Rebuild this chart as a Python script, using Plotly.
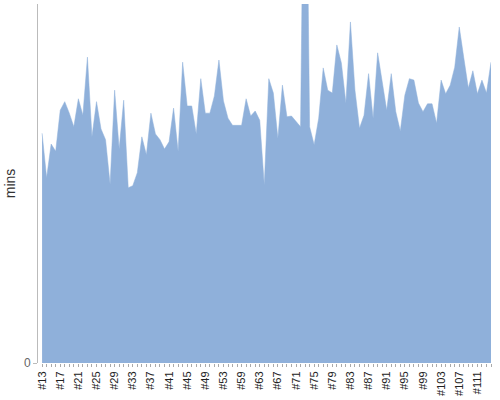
import plotly.graph_objects as go

# Nombres de las categorías (hay un salto entre #53 y #59)
categorias = (
    [f"#{n}" for n in range(13, 54)]
    + ["#55", "#56", "#57"]
    + [f"#{n}" for n in range(59, 115)]
)

# Minutos por categoría
minutos = [
    32.0, 25.8, 30.5, 29.5, 35.2, 36.4, 34.8, 32.9, 36.8, 34.5,
    42.6, 31.5, 36.4, 32.6, 31.1, 24.9, 38.0, 29.8, 36.6, 24.4,
    24.7, 26.5, 31.5, 29.0, 34.8, 31.9, 31.1, 29.8, 30.8, 35.5,
    29.5, 41.9, 35.8, 35.8, 31.9, 39.6, 34.8, 34.8, 37.2, 42.2,
    36.5, 34.1, 33.1, 33.1, 33.1, 36.8, 34.4, 35.1, 33.8, 24.8,
    39.6, 37.6, 31.3, 38.7, 34.3, 34.4, 33.6, 32.9, 89.6, 32.9,
    30.4, 34.1, 41.1, 38.0, 37.6, 44.3, 41.8, 36.2, 47.5, 38.0,
    32.7, 34.5, 40.3, 34.1, 43.2, 39.1, 35.2, 40.3, 35.0, 32.3,
    37.3, 39.6, 39.4, 36.2, 35.0, 36.1, 36.1, 33.4, 39.4, 37.5,
    38.7, 41.2, 46.8, 42.5, 38.3, 40.7, 37.5, 39.4, 37.6, 41.9,
]

# Solo se rotula una de cada cuatro categorías
etiquetas = [c if i % 4 == 0 else "" for i, c in enumerate(categorias)]

fig = go.Figure()

fig.add_trace(go.Scatter(
    x=categorias,
    y=minutos,
    mode="lines",
    fill="tozeroy",
    fillcolor="#8FB0DA",
    line=dict(color="#8FB0DA", width=0.5),
    hoverinfo="x+y",
))

fig.update_layout(
    width=500,
    height=400,
    template="plotly_white",
    showlegend=False,
    plot_bgcolor="white",
    paper_bgcolor="white",
    margin=dict(l=38, r=9, t=4, b=37),
    font=dict(family="Liberation Sans, Arial, sans-serif", size=11, color="#333"),
    xaxis=dict(
        type="category",
        range=[-0.9, 99],
        automargin=False,
        tickmode="array",
        tickvals=categorias,
        ticktext=etiquetas,
        tickangle=-90,
        ticks="outside",
        ticklen=3,
        tickcolor="#aaa",
        showgrid=False,
        showline=False,
        zeroline=False,
        tickfont=dict(size=11, color="#222"),
    ),
    yaxis=dict(
        range=[0, 50],
        automargin=False,
        tickmode="array",
        tickvals=[0],
        ticktext=["0"],
        ticks="outside",
        ticklen=4,
        tickcolor="#bbb",
        showline=True,
        linecolor="#bbb",
        linewidth=1,
        showgrid=False,
        zeroline=False,
        tickfont=dict(size=12, color="#666"),
        title=dict(text="mins", font=dict(size=14, color="#333"), standoff=5),
    ),
)

# Quitar el margen por defecto del <body> y la barra de herramientas
fig.write_html(
    "out.html",
    config={"displayModeBar": False},
    post_script="document.body.style.margin='0';",
)
